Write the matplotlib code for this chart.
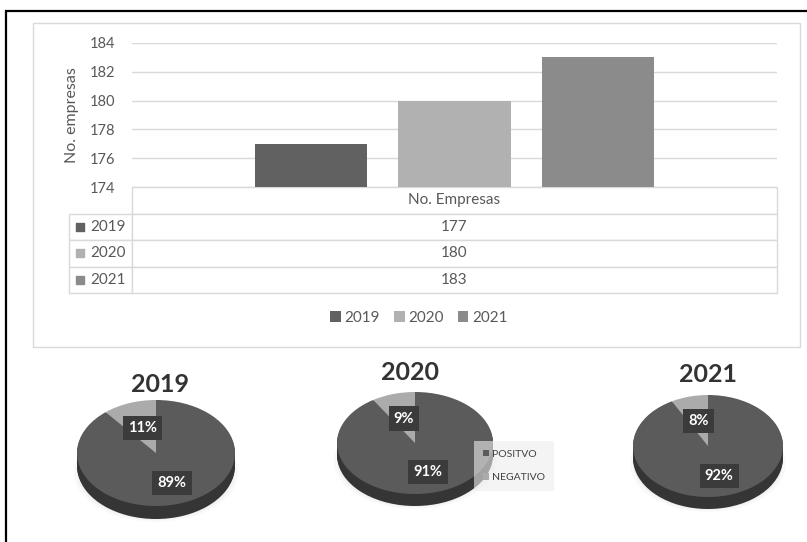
import matplotlib
matplotlib.use('Agg')
import matplotlib.pyplot as plt
import numpy as np
from matplotlib.patches import Rectangle, Ellipse

plt.rcParams['font.family'] = ['Lato', 'DejaVu Sans']

W, H = 807, 542

# data
years = ['2019', '2020', '2021']
empresas = [177, 180, 183]
bar_colors = ['#616161', '#b1b1b1', '#8b8b8b']

pie_labels = ['POSITVO', 'NEGATIVO']
pie_2019 = [89, 11]
pie_2020 = [91, 9]
pie_2021 = [92, 8]
pie_colors = ['#5b5b5b', '#ababab']
side_colors = ['#353535', '#6a6a6a']

TXT = '#595959'


def px_axes(fig, x0, y0, x1, y1):
    # axes placed by pixel box (top-left origin)
    return fig.add_axes([x0 / W, 1 - y1 / H, (x1 - x0) / W, (y1 - y0) / H])


def draw_pie(fig, title, vals, cx, cy, rx, ry, depth, title_xy):
    ax = px_axes(fig, cx - 1.3 * rx, cy - 1.3 * ry, cx + 1.3 * rx, cy + 1.7 * ry)
    d = depth / ry

    # soft shadow under the disc
    for k, a in [(1.04, 0.06), (1.0, 0.07), (0.96, 0.08)]:
        ax.add_patch(Ellipse((0, -d - 0.12), 2 * k, 2 * k * 0.9, color='#a0a0a0',
                             alpha=a, lw=0))

    # side of the disc: stacked copies shifted down
    for off in np.linspace(d, 0, 10)[:-1]:
        ax.pie(vals, colors=side_colors, startangle=90, counterclock=False,
               center=(0, -off), wedgeprops=dict(linewidth=0))

    wedges, _, autotexts = ax.pie(
        vals, colors=pie_colors, startangle=90, counterclock=False,
        autopct='%.0f%%', pctdistance=0.5, wedgeprops=dict(linewidth=0),
        textprops=dict(color='white', fontsize=10.5, fontweight='bold'))
    for t in autotexts:
        t.set_bbox(dict(boxstyle='square,pad=0.35', fc='#3b3b3b', ec='none'))
    x, y = autotexts[0].get_position()
    autotexts[0].set_position((x * 1.2, y * 1.2))

    ax.set_aspect('auto')
    ax.set_xlim(-1.3, 1.3)
    ax.set_ylim(-1.7, 1.3)
    ax.axis('off')

    fig.text(title_xy[0] / W, 1 - title_xy[1] / H, title, ha='center', va='center',
             fontsize=18, fontweight='bold', color='#333333')
    return ax, wedges


fig = plt.figure(figsize=(W / 100, H / 100), dpi=100)

# frames
fig.add_artist(Rectangle((6 / W, -0.1), 2, 1 - 11 / H + 0.1, transform=fig.transFigure,
                         fill=False, ec='black', lw=1.6))
fig.add_artist(Rectangle((33 / W, 1 - 347 / H), (800 - 33) / W, (347 - 23) / H,
                         transform=fig.transFigure, fill=False, ec='#d9d9d9', lw=1))

# bar chart
ax = px_axes(fig, 132, 43, 777, 187)
offsets = [-0.222, 0, 0.222]
bars = []
for off, v, c in zip(offsets, empresas, bar_colors):
    bars.append(ax.bar(off, v, width=0.174, color=c, zorder=2))
ax.set_xlim(-0.5, 0.5)
ax.set_ylim(174, 184)
ax.set_yticks(range(174, 185, 2))
ax.set_xticks([])
ax.yaxis.grid(True, color='#d9d9d9', lw=1)
ax.set_axisbelow(True)
for s in ax.spines.values():
    s.set_visible(False)
ax.tick_params(axis='y', length=0, labelsize=10.5, colors=TXT, pad=12)
fig.text(72 / W, 1 - 115 / H, 'No. empresas', rotation=90, ha='center', va='center',
         fontsize=11.5, color=TXT)

# data table under the bars
cells = [[y, str(v)] for y, v in zip(years, empresas)]
tbl = ax.table(cellText=cells, colLabels=['', 'No. Empresas'], cellLoc='center',
               colWidths=[63 / 708, 645 / 708],
               bbox=[-63 / 645, -106 / 144, 708 / 645, 106 / 144])
tbl.auto_set_font_size(False)
tbl.set_fontsize(11)
for (r, c), cell in tbl.get_celld().items():
    cell.set_edgecolor('#d9d9d9')
    cell.set_linewidth(1)
    cell.get_text().set_color(TXT)
    if r == 0 and c == 0:
        cell.set_visible(False)
    if r > 0 and c == 0:
        cell.get_text().set_horizontalalignment('right')
rh = 106 / 144 / 4
for i, c in enumerate(bar_colors):
    ax.scatter(-52 / 645, -(i + 1.5) * rh, marker='s', s=40, color=c,
               transform=ax.transAxes, clip_on=False, zorder=5)

fig.legend([b[0] for b in bars], years, loc='center', bbox_to_anchor=(419 / W, 1 - 318 / H),
           ncol=3, frameon=False, handlelength=0.7, handleheight=0.7, handletextpad=0.25,
           columnspacing=0.9, fontsize=11, labelcolor=TXT)

# pies
draw_pie(fig, '2019', pie_2019, 156, 453, 79, 53, 13, (160, 385))
ax20, w20 = draw_pie(fig, '2020', pie_2020, 415, 443, 78, 51, 12, (410, 373))
draw_pie(fig, '2021', pie_2021, 708, 446, 75, 51, 12, (708, 375))

ax20.legend(w20, pie_labels, loc='center', bbox_to_anchor=(514 / W, 1 - 466 / H),
            bbox_transform=fig.transFigure, frameon=True, facecolor='#ededed',
            framealpha=0.6, edgecolor='none', fontsize=7.5, handlelength=0.6,
            handleheight=0.6, handletextpad=0.3, labelspacing=1.4, borderpad=0.8,
            labelcolor='#404040', fancybox=False)

plt.savefig('out.png', dpi=100)
